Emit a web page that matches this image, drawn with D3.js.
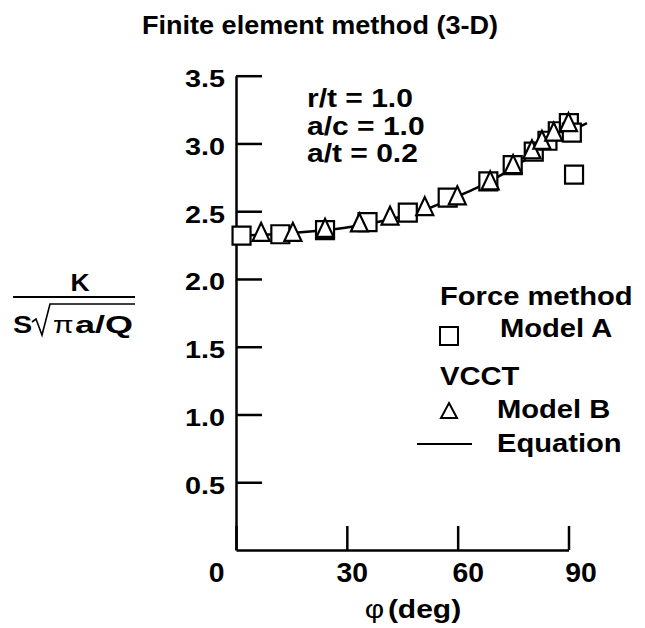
<!DOCTYPE html>
<html>
<head>
<meta charset="UTF-8">
<script src="https://cdnjs.cloudflare.com/ajax/libs/d3/7.8.5/d3.min.js"></script>
<style>
  body { margin: 0; background: #fff; }
  svg text { font-family: "Liberation Sans", Arial, sans-serif; font-weight: bold; fill: #000; }
</style>
</head>
<body>
<svg width="645" height="628"></svg>
<script>
// Model A (force method), phi in deg and K/(S sqrt(pi a/Q))
let modelAPhi = [1.5, 12, 24.1, 35.6, 46.5, 57.3, 68.3, 74.9, 80.6, 84.3, 87.1, 90.1, 90.9, 91.5];
let modelAK   = [2.32, 2.33, 2.36, 2.42, 2.49, 2.60, 2.72, 2.84, 2.94, 3.02, 3.09, 3.15, 3.08, 2.77];
// Model B (VCCT)
let modelBPhi = [6.8, 15.4, 24.1, 33.4, 41.7, 51.1, 59.9, 68.8, 75, 80.1, 82.8, 86, 90];
let modelBK   = [2.34, 2.34, 2.37, 2.41, 2.46, 2.53, 2.61, 2.72, 2.84, 2.95, 3.02, 3.08, 3.15];
// Equation curve
let eqPhi = [1.5, 10, 20, 30, 40, 50, 60, 65, 70, 75, 80, 85, 90, 95];
let eqK   = [2.32, 2.33, 2.35, 2.38, 2.43, 2.50, 2.61, 2.67, 2.74, 2.82, 2.91, 3.00, 3.08, 3.15];

let xTicks = [0, 30, 60, 90];
let yTicks = [0.5, 1.0, 1.5, 2.0, 2.5, 3.0, 3.5];
let params = ["r/t = 1.0", "a/c = 1.0", "a/t = 0.2"];

let svg = d3.select("svg");

let x = d3.scaleLinear().domain([0, 90]).range([236, 568.5]);
let y = d3.scaleLinear().domain([0, 3.5]).range([550, 75.7]);

// the scanned lettering is wider than Arial, so stretch text sideways
function stretch(sel, k) {
    sel.each(function () {
        let t = d3.select(this);
        let tx = +t.attr("x") || 0, ty = +t.attr("y") || 0;
        t.attr("x", 0).attr("y", 0)
            .attr("transform", "translate(" + tx + "," + ty + ") scale(" + k + ",1)");
    });
}

// title
svg.append("text")
    .attr("x", 320).attr("y", 34)
    .attr("text-anchor", "middle")
    .style("font-size", "26px")
    .text("Finite element method (3-D)")
    .call(stretch, 1.04);

// axes (ticks point inward)
let xLabelShift = { 0: -20, 30: 5, 60: 10, 90: 12 };

let yAxis = svg.append("g")
    .attr("transform", "translate(" + x(0) + ",0)")
    .call(d3.axisLeft(y).tickValues(yTicks).tickSize(-26).tickSizeOuter(0)
        .tickPadding(11).tickFormat(d3.format(".1f")));

let xAxis = svg.append("g")
    .attr("transform", "translate(0," + y(0) + ")")
    .call(d3.axisBottom(x).tickValues(xTicks).tickSize(-24).tickSizeOuter(0)
        .tickPadding(13).tickFormat(d3.format("d")));

svg.selectAll(".domain").attr("stroke", "#000").attr("stroke-width", 2.5);
svg.selectAll(".tick line").attr("stroke", "#000").attr("stroke-width", 2.5);
svg.selectAll(".tick text").attr("font-family", null).attr("font-size", null);

yAxis.selectAll(".tick text")
    .style("font-size", "24px")
    .attr("dy", "0.45em")
    .call(stretch, 1.2);

xAxis.selectAll(".tick text")
    .style("font-size", "27px")
    .attr("x", d => xLabelShift[d])
    .call(stretch, 1.05);

// x label
let xl = svg.append("text")
    .attr("x", 413).attr("y", 618)
    .attr("text-anchor", "middle")
    .style("font-size", "25px");
xl.append("tspan").style("font-weight", "normal").text("φ");
xl.append("tspan").attr("dx", 3).text("(deg)");
xl.call(stretch, 1.2);

// y label as a fraction
svg.append("text")
    .attr("x", 80).attr("y", 291)
    .attr("text-anchor", "middle")
    .style("font-size", "23px")
    .text("K")
    .call(stretch, 1.15);
svg.append("line")
    .attr("x1", 13).attr("x2", 135)
    .attr("y1", 297).attr("y2", 297)
    .attr("stroke", "#000").attr("stroke-width", 2);
svg.append("text")
    .attr("x", 13).attr("y", 333)
    .style("font-size", "23px")
    .text("S")
    .call(stretch, 1.25);
svg.append("path")
    .attr("d", "M32,322 L36,319 L42,335 L50,304 L135,304")
    .attr("fill", "none").attr("stroke", "#000").attr("stroke-width", 1.6);
svg.append("text")
    .attr("x", 53).attr("y", 333)
    .style("font-size", "23px")
    .style("font-weight", "normal")
    .text("π")
    .call(stretch, 1.3);
svg.append("text")
    .attr("x", 75).attr("y", 333)
    .style("font-size", "23px")
    .attr("textLength", 58)
    .attr("lengthAdjust", "spacingAndGlyphs")
    .text("a/Q");

// parameters
svg.append("g").selectAll("text")
    .data(params)
    .enter()
    .append("text")
    .attr("x", 307)
    .attr("y", (d, i) => 107 + i * 27.5)
    .style("font-size", "25px")
    .text(d => d)
    .call(stretch, 1.2);

// equation line
let eqData = eqPhi.map((p, i) => ({ phi: p, k: eqK[i] }));
svg.append("path")
    .datum(eqData)
    .attr("fill", "none")
    .attr("stroke", "#000")
    .attr("stroke-width", 2.5)
    .attr("d", d3.line().x(d => x(d.phi)).y(d => y(d.k)).curve(d3.curveMonotoneX));

let squarePath = "M-9,-9 H9 V9 H-9 Z";
let trianglePath = "M0,-10 L8.5,8 L-8.5,8 Z";

let aData = modelAPhi.map((p, i) => ({ phi: p, k: modelAK[i] }));
let bData = modelBPhi.map((p, i) => ({ phi: p, k: modelBK[i] }));

svg.append("g").selectAll("path")
    .data(aData)
    .enter()
    .append("path")
    .attr("d", squarePath)
    .attr("transform", d => "translate(" + x(d.phi) + "," + y(d.k) + ")")
    .attr("fill", "#fff").attr("stroke", "#000").attr("stroke-width", 2.2);

svg.append("g").selectAll("path")
    .data(bData)
    .enter()
    .append("path")
    .attr("d", trianglePath)
    .attr("transform", d => "translate(" + x(d.phi) + "," + y(d.k) + ")")
    .attr("fill", "#fff").attr("stroke", "#000").attr("stroke-width", 2.2);

// legend
let legend = svg.append("g");
legend.append("text").attr("x", 440).attr("y", 305).text("Force method");
legend.append("path").attr("d", squarePath)
    .attr("transform", "translate(449,336)")
    .attr("fill", "none").attr("stroke", "#000").attr("stroke-width", 2);
legend.append("text").attr("x", 500).attr("y", 337).text("Model A");
legend.append("text").attr("x", 440).attr("y", 385).text("VCCT");
legend.append("path").attr("d", "M0,-8 L8,7 L-8,7 Z")
    .attr("transform", "translate(449,411)")
    .attr("fill", "none").attr("stroke", "#000").attr("stroke-width", 2);
legend.append("text").attr("x", 497).attr("y", 418).text("Model B");
legend.append("line").attr("x1", 417).attr("x2", 472).attr("y1", 444).attr("y2", 444)
    .attr("stroke", "#000").attr("stroke-width", 1.8);
legend.append("text").attr("x", 497).attr("y", 452).text("Equation");
legend.selectAll("text").style("font-size", "26.5px").call(stretch, 1.1);
</script>
</body>
</html>
